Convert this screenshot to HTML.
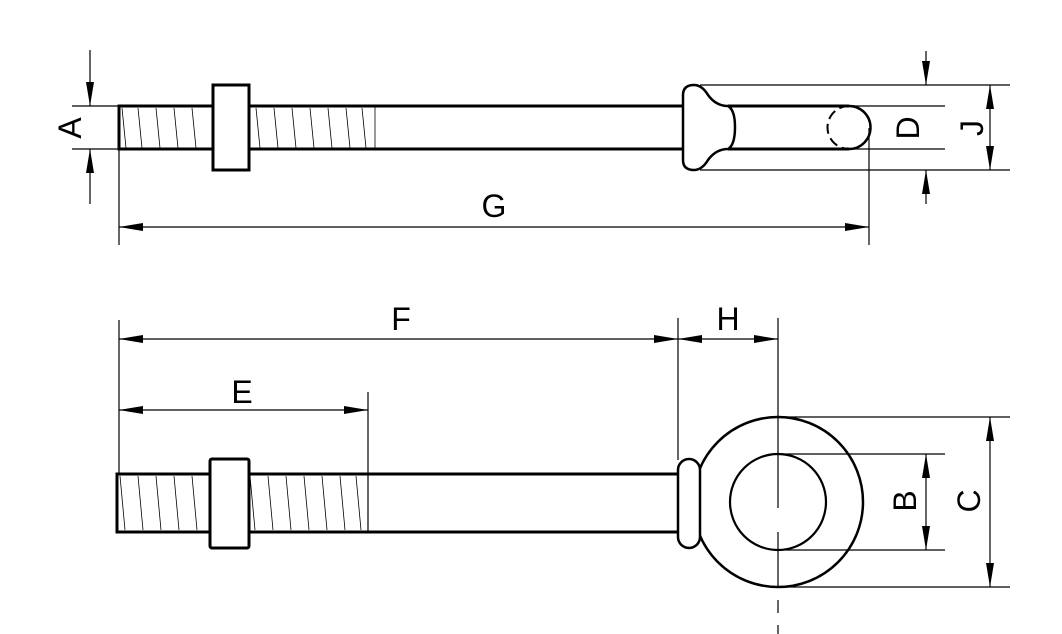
<!DOCTYPE html>
<html><head><style>html,body{margin:0;padding:0;background:#fff}svg{display:block}</style></head>
<body>
<svg width="1062" height="634" viewBox="0 0 1062 634" xmlns="http://www.w3.org/2000/svg">
<defs>
<marker id="ar" viewBox="0 0 24 8" refX="24" refY="4" markerWidth="24" markerHeight="8" markerUnits="userSpaceOnUse" orient="auto-start-reverse"><path d="M0,0 L24,4 L0,8 Z" fill="#000"/></marker>
</defs>
<g fill="none" stroke="#000" stroke-width="1.2">
<line x1="72" y1="106" x2="119" y2="106"/>
<line x1="72" y1="149" x2="119" y2="149"/>
<line x1="119" y1="149" x2="119" y2="245"/>
<line x1="869" y1="128" x2="869" y2="245"/>
<line x1="700" y1="85" x2="1010" y2="85"/>
<line x1="700" y1="170" x2="1010" y2="170"/>
<line x1="852" y1="106" x2="945" y2="106"/>
<line x1="852" y1="149" x2="945" y2="149"/>
<line x1="90" y1="50" x2="90" y2="106" marker-end="url(#ar)"/>
<line x1="90" y1="204" x2="90" y2="149" marker-end="url(#ar)"/>
<line x1="926" y1="51" x2="926" y2="85" marker-end="url(#ar)"/>
<line x1="926" y1="204" x2="926" y2="170" marker-end="url(#ar)"/>
<line x1="990" y1="85" x2="990" y2="170" marker-start="url(#ar)" marker-end="url(#ar)"/>
<line x1="119" y1="227" x2="869" y2="227" marker-start="url(#ar)" marker-end="url(#ar)"/>
<g stroke-width="0.8">
<path d="M122,108 l4,40 M138,108 l4,40 M156,108 l4,40 M174,108 l4,40 M192,108 l4,40 M256,108 l4,40 M274,108 l4,40 M292,108 l4,40 M310,108 l4,40 M328,108 l4,40 M346,108 l4,40 M362,108 l4,40"/>
<line x1="375" y1="106" x2="375" y2="149"/>
</g>
</g>
<g fill="none" stroke="#000" stroke-width="3">
<path d="M213,106 H119 V149 H213"/>
<path d="M249,106 H683 M249,149 H683"/>
<rect x="213" y="85" width="36" height="85" fill="#fff"/>
<path d="M683,100 V95 Q683,85 694,85 Q702,85 708,95 Q716,106 728,106 Q735,110 735,127 Q735,145 728,149 Q716,149 708,160 Q702,170 694,170 Q683,170 683,160 Z" fill="#fff" stroke-width="2.5"/>
<path d="M728,106 H849 M728,149 H849"/>
<path d="M849,106 A21.5,21.5 0 0 1 849,149" stroke-width="2.5"/>
<path d="M849,106 A21.5,21.5 0 0 0 849,149" stroke-width="2" stroke-dasharray="10,5"/>
</g>
<g fill="none" stroke="#000" stroke-width="1.2">
<line x1="119" y1="320" x2="119" y2="474"/>
<line x1="678" y1="318" x2="678" y2="460"/>
<line x1="368" y1="392" x2="368" y2="532"/>
<line x1="119" y1="339" x2="678" y2="339" marker-start="url(#ar)" marker-end="url(#ar)"/>
<line x1="678" y1="339" x2="778" y2="339" marker-start="url(#ar)" marker-end="url(#ar)"/>
<line x1="119" y1="410" x2="368" y2="410" marker-start="url(#ar)" marker-end="url(#ar)"/>
<line x1="778" y1="417" x2="1010" y2="417"/>
<line x1="778" y1="587" x2="1010" y2="587"/>
<line x1="778" y1="454" x2="945" y2="454"/>
<line x1="778" y1="550" x2="945" y2="550"/>
<line x1="926" y1="454" x2="926" y2="550" marker-start="url(#ar)" marker-end="url(#ar)"/>
<line x1="990" y1="417" x2="990" y2="587" marker-start="url(#ar)" marker-end="url(#ar)"/>
<g stroke-width="0.8">
<path d="M120,476 l5,54 M138,476 l5,54 M156,476 l5,54 M174,476 l5,54 M192,476 l5,54 M250,476 l5,54 M268,476 l5,54 M286,476 l5,54 M304,476 l5,54 M322,476 l5,54 M340,476 l5,54 M356,476 l5,54"/>
<line x1="210" y1="480" x2="249" y2="480"/><line x1="210" y1="526" x2="249" y2="526"/>
</g>
</g>
<g fill="none" stroke="#000" stroke-width="3">
<path d="M210,474 H117 V532 H210"/>
<path d="M249,474 H680 M249,532 H680"/>
<rect x="210" y="459" width="39" height="89" rx="2" fill="#fff"/>
<circle cx="778" cy="502" r="85" stroke-width="2.5"/>
<circle cx="778" cy="502" r="48" stroke-width="2.2"/>
<rect x="678" y="459" width="22" height="89" rx="11" fill="#fff" stroke-width="2.5"/>
</g>
<path d="M778,318 V508 M778,532 V588 M778,600 V613 M778,625 V634" stroke="#000" stroke-width="1.2" fill="none"/>
<g font-family="Liberation Sans, sans-serif" font-size="32" fill="#000" text-anchor="middle">
<text x="494" y="217">G</text>
<text x="401" y="330">F</text>
<text x="242" y="403">E</text>
<text x="728" y="330">H</text>
<text transform="translate(81,128) rotate(-90)">A</text>
<text transform="translate(919,128) rotate(-90)">D</text>
<text transform="translate(983,128) rotate(-90)">J</text>
<text transform="translate(916,501) rotate(-90)">B</text>
<text transform="translate(980,501) rotate(-90)">C</text>
</g>
</svg>
</body></html>
